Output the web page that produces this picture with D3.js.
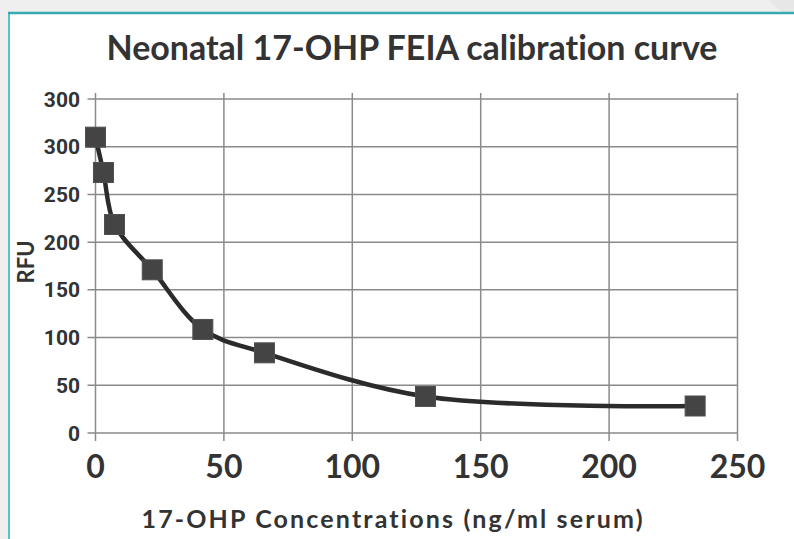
<!DOCTYPE html>
<html lang="en">
<head>
  <meta charset="UTF-8">
  <title>Neonatal 17-OHP FEIA calibration curve</title>
  <script src="https://d3js.org/d3.v7.min.js"></script>
  <style>
    body { margin: 0; background: #efefef; }
    svg { display: block; }
    text { font-variant-ligatures: none; }
  </style>
</head>
<body>
  <svg id="chart" width="794" height="539"></svg>

  <script>
    // standards
    const concentrations = [0, 3.1, 7.4, 22.1, 41.8, 65.8, 128.5, 233.5];
    const rfuValues = [310, 273, 218.5, 171, 108.5, 84, 38.3, 28.3];

    const xTicks = [0, 50, 100, 150, 200, 250];
    const yTicks = [0, 50, 100, 150, 200, 250, 300, 350];
    // the top label really reads "300" in the original
    const yTickLabels = ["0", "50", "100", "150", "200", "250", "300", "300"];

    const title = "Neonatal 17-OHP FEIA calibration curve";
    const xTitle = "17-OHP Concentrations (ng/ml serum)";
    const yTitle = "RFU";

    const svg = d3.select("#chart");
    const width = +svg.attr("width");
    const height = +svg.attr("height");

    // slide frame
    svg.append("rect").attr("width", width).attr("height", height).attr("fill", "#efefef");
    svg.append("polygon")
      .attr("points", "768,0 794,0 794,12 782,12")
      .attr("fill", "#e7e7e7");
    svg.append("rect").attr("x", 10).attr("y", 14).attr("width", width - 10).attr("height", height - 14).attr("fill", "#fff");
    svg.append("line").attr("x1", 9).attr("x2", 9).attr("y1", 12).attr("y2", height)
      .attr("stroke", "#55c4c4").attr("stroke-width", 2);
    svg.append("line").attr("x1", 8).attr("x2", width).attr("y1", 13).attr("y2", 13)
      .attr("stroke", "#36aaae").attr("stroke-width", 2.5);

    const x = d3.scaleLinear().domain([0, 250]).range([95.5, 737.5]);
    const y = d3.scaleLinear().domain([0, 350]).range([433, 99]);

    const grid = svg.append("g").attr("stroke", "#8a8a8a").attr("stroke-width", 1.5);
    grid.selectAll(".vg").data(xTicks).enter().append("line")
      .attr("x1", d => x(d)).attr("x2", d => x(d))
      .attr("y1", y(350) - 6).attr("y2", y(0) + 8);
    grid.selectAll(".hg").data(yTicks).enter().append("line")
      .attr("x1", x(0) - 8).attr("x2", x(250))
      .attr("y1", d => y(d)).attr("y2", d => y(d));

    svg.append("g").selectAll("text").data(yTicks).enter().append("text")
      .attr("x", 80).attr("y", d => y(d)).attr("dy", "0.36em")
      .attr("text-anchor", "end")
      .style("font-family", "Roboto, sans-serif").style("font-weight", 700)
      .style("font-size", "21px").style("fill", "#333")
      .text((d, i) => yTickLabels[i]);

    svg.append("g").selectAll("text").data(xTicks).enter().append("text")
      .attr("x", d => x(d)).attr("y", 478)
      .attr("text-anchor", "middle")
      .style("font-family", "Lato, sans-serif").style("font-weight", 700)
      .style("font-size", "32px").style("fill", "#333")
      .text(d => d);

    const line = d3.line()
      .x((d, i) => x(concentrations[i]))
      .y(d => y(d))
      .curve(d3.curveCatmullRom);

    svg.append("path").datum(rfuValues)
      .attr("d", line)
      .attr("fill", "none").attr("stroke", "#2b2b2b").attr("stroke-width", 4.5);

    const size = 20;
    svg.append("g").selectAll("rect").data(rfuValues).enter().append("rect")
      .attr("x", (d, i) => x(concentrations[i]) - size / 2)
      .attr("y", d => y(d) - size / 2)
      .attr("width", size).attr("height", size)
      .attr("fill", "#444").attr("stroke", "#505050").attr("stroke-width", 1);

    svg.append("text")
      .attr("x", 412).attr("y", 60).attr("text-anchor", "middle")
      .attr("textLength", 611).attr("lengthAdjust", "spacing")
      .style("font-family", "Lato, sans-serif").style("font-weight", 700)
      .style("font-size", "34px").style("fill", "#333")
      .text(title);

    svg.append("text")
      .attr("x", 392).attr("y", 528).attr("text-anchor", "middle")
      .attr("textLength", 501).attr("lengthAdjust", "spacing")
      .style("font-family", "Lato, sans-serif").style("font-weight", 700)
      .style("font-size", "25px").style("fill", "#333")
      .text(xTitle);

    svg.append("text")
      .attr("transform", "translate(34,262) rotate(-90)")
      .attr("text-anchor", "middle")
      .style("font-family", "Lato, sans-serif").style("font-weight", 700)
      .style("font-size", "22px").style("fill", "#333")
      .text(yTitle);
  </script>
</body>
</html>
